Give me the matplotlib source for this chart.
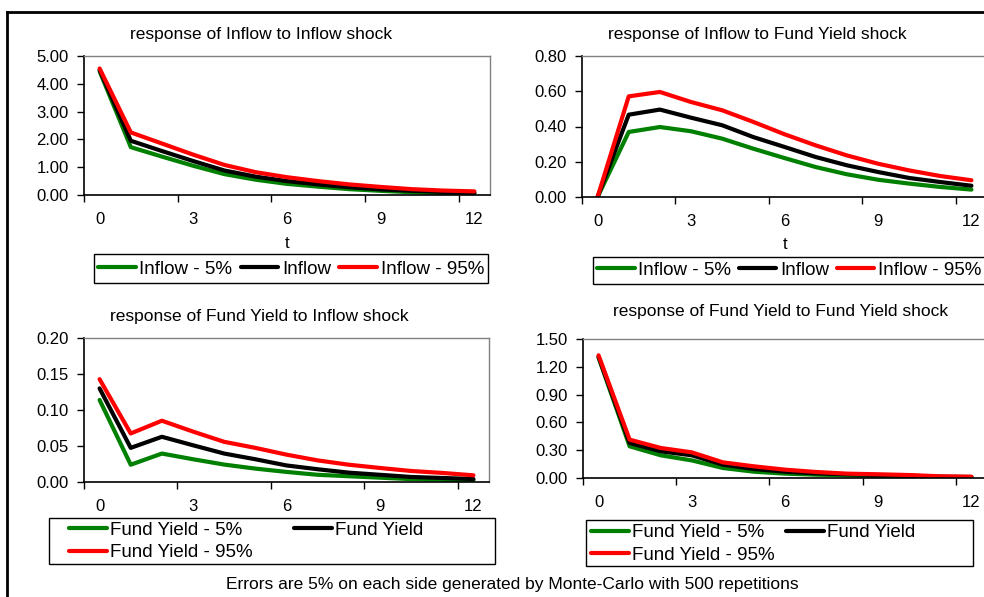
import matplotlib
matplotlib.use("Agg")
import matplotlib.pyplot as plt
from matplotlib.lines import Line2D
from matplotlib.patches import Rectangle
from matplotlib.ticker import FixedLocator, FormatStrFormatter

plt.rcParams['font.family'] = ['Liberation Sans', 'DejaVu Sans']

t = list(range(13))
xtick_labels = ['0', '3', '6', '9', '12']

# response of Inflow to Inflow shock
inf_inf_lo = [4.45, 1.72, 1.38, 1.05, 0.75, 0.55, 0.40, 0.30, 0.21, 0.15, 0.10, 0.07, 0.05]
inf_inf_mid = [4.50, 1.95, 1.58, 1.22, 0.88, 0.66, 0.50, 0.38, 0.28, 0.20, 0.15, 0.11, 0.08]
inf_inf_hi = [4.55, 2.25, 1.85, 1.45, 1.08, 0.82, 0.64, 0.50, 0.38, 0.29, 0.21, 0.16, 0.13]

# response of Inflow to Fund Yield shock
inf_fy_lo = [0.0, 0.369, 0.397, 0.373, 0.331, 0.274, 0.221, 0.170, 0.129, 0.098, 0.076, 0.057, 0.042]
inf_fy_mid = [0.0, 0.467, 0.496, 0.450, 0.407, 0.340, 0.284, 0.227, 0.180, 0.142, 0.108, 0.085, 0.064]
inf_fy_hi = [0.0, 0.571, 0.596, 0.539, 0.492, 0.426, 0.356, 0.293, 0.236, 0.189, 0.151, 0.119, 0.095]

# response of Fund Yield to Inflow shock
fy_inf_lo = [0.114, 0.024, 0.0395, 0.0316, 0.0242, 0.0186, 0.014, 0.010, 0.008, 0.006, 0.004, 0.0033, 0.0023]
fy_inf_mid = [0.130, 0.0474, 0.0628, 0.051, 0.0395, 0.0316, 0.023, 0.0177, 0.013, 0.010, 0.007, 0.0056, 0.0042]
fy_inf_hi = [0.1428, 0.0674, 0.0851, 0.070, 0.0558, 0.0474, 0.038, 0.030, 0.024, 0.0195, 0.0153, 0.0126, 0.0093]

# response of Fund Yield to Fund Yield shock
fy_fy_lo = [1.30, 0.342, 0.245, 0.19, 0.108, 0.068, 0.047, 0.036, 0.029, 0.022, 0.014, 0.011, 0.007]
fy_fy_mid = [1.31, 0.378, 0.288, 0.245, 0.144, 0.097, 0.068, 0.050, 0.040, 0.032, 0.025, 0.014, 0.011]
fy_fy_hi = [1.324, 0.414, 0.324, 0.277, 0.169, 0.126, 0.090, 0.065, 0.047, 0.040, 0.032, 0.018, 0.014]

inflow_names = ['Inflow - 5%', 'Inflow', 'Inflow - 95%']
fy_names = ['Fund Yield - 5%', 'Fund Yield', 'Fund Yield - 95%']
titles = ['response of Inflow to Inflow shock', 'response of Inflow to Fund Yield shock',
          'response of Fund Yield to Inflow shock', 'response of Fund Yield to Fund Yield shock']
footer = 'Errors are 5% on each side generated by Monte-Carlo with 500 repetitions'

W, H = 984, 597
fig = plt.figure(figsize=(W / 100, H / 100), dpi=100)

GREEN = '#008000'
RED = '#FF0000'
LW = 3.0
TITLE_FS = 12.5
TICK_FS = 12
LEG_FS = 13.5


def fr(x0, y0, x1, y1):
    return [x0 / W, 1 - y1 / H, (x1 - x0) / W, (y1 - y0) / H]


def style(ax, ymax, ystep):
    ax.set_xlim(-0.5, 12.5)
    ax.set_ylim(0, ymax)
    n = int(round(ymax / ystep))
    ax.set_yticks([i * ystep for i in range(n + 1)])
    ax.yaxis.set_major_formatter(FormatStrFormatter('%.2f'))
    ax.set_xticks([-0.5, 2.5, 5.5, 8.5, 11.5])
    ax.set_xticklabels([])
    ax.xaxis.set_minor_locator(FixedLocator([0, 3, 6, 9, 12]))
    ax.set_xticklabels(xtick_labels, minor=True)
    ax.tick_params(axis='x', which='major', direction='out', length=5, width=1, color='black')
    ax.tick_params(axis='x', which='minor', length=0, pad=12, labelsize=TICK_FS)
    ax.tick_params(axis='y', direction='out', length=5, width=1, labelsize=TICK_FS, pad=6)
    for s in ['left', 'bottom']:
        ax.spines[s].set_color('black')
        ax.spines[s].set_linewidth(1.2)
    for s in ['top', 'right']:
        ax.spines[s].set_color('#808080')
        ax.spines[s].set_linewidth(1.0)


def draw(ax, lo, mid, hi, names):
    l1, = ax.plot(t, lo, color=GREEN, lw=LW, solid_capstyle='round', label=names[0])
    l2, = ax.plot(t, mid, color='black', lw=LW, solid_capstyle='round', label=names[1])
    l3, = ax.plot(t, hi, color=RED, lw=LW, solid_capstyle='round', label=names[2])
    return [l1, l2, l3]


def legend(handles, labels, xl, yc, box, ncol, colsp):
    fig.legend(handles, labels, loc='center left', bbox_to_anchor=(xl / W, 1 - yc / H),
               ncol=ncol, fontsize=LEG_FS, frameon=False, handlelength=2.0,
               handletextpad=0.2, columnspacing=colsp, borderpad=0, labelspacing=0.3,
               borderaxespad=0)
    x0, y0, x1, y1 = box
    fig.add_artist(Rectangle((x0 / W, 1 - y1 / H), (x1 - x0) / W, (y1 - y0) / H,
                             transform=fig.transFigure, fill=False, edgecolor='black', lw=1.0))


# top-left
ax1 = fig.add_axes(fr(84, 56, 490, 195))
h1 = draw(ax1, inf_inf_lo, inf_inf_mid, inf_inf_hi, inflow_names)
style(ax1, 5.0, 1.0)
fig.text(261 / W, 1 - 39 / H, titles[0], ha='center', va='baseline', fontsize=TITLE_FS)
fig.text(287 / W, 1 - 248 / H, 't', ha='center', va='baseline', fontsize=TICK_FS)
legend(h1, inflow_names, 98, 269, (94, 254, 488, 283), 3, 0.45)

# top-right
ax2 = fig.add_axes(fr(582, 56, 987, 197))
h2 = draw(ax2, inf_fy_lo, inf_fy_mid, inf_fy_hi, inflow_names)
style(ax2, 0.80, 0.20)
fig.text(757 / W, 1 - 39 / H, titles[1], ha='center', va='baseline', fontsize=TITLE_FS)
fig.text(785 / W, 1 - 249 / H, 't', ha='center', va='baseline', fontsize=TICK_FS)
legend(h2, inflow_names, 597, 270, (593, 257, 992, 284), 3, 0.4)

# bottom-left  (row-wise order: 5%, mid / 95%)
ax3 = fig.add_axes(fr(84, 338, 489, 482))
h3 = draw(ax3, fy_inf_lo, fy_inf_mid, fy_inf_hi, fy_names)
style(ax3, 0.20, 0.05)
fig.text(259 / W, 1 - 320.5 / H, titles[2], ha='center', va='baseline', fontsize=TITLE_FS)
legend([h3[0], h3[2], h3[1]], [fy_names[0], fy_names[2], fy_names[1]], 69, 541.5,
       (49, 518, 495, 564), 2, 2.2)

# bottom-right
ax4 = fig.add_axes(fr(583, 339, 987, 478))
h4 = draw(ax4, fy_fy_lo, fy_fy_mid, fy_fy_hi, fy_names)
style(ax4, 1.50, 0.30)
fig.text(781 / W, 1 - 316 / H, titles[3], ha='center', va='baseline', fontsize=TITLE_FS)
legend([h4[0], h4[2], h4[1]], [fy_names[0], fy_names[2], fy_names[1]], 591, 544,
       (586, 520, 973, 566), 2, 0.6)

fig.text(512 / W, 1 - 584 / H, footer, ha='center', va='center', fontsize=12.5)

# outer frame of the exhibit
fig.add_artist(Line2D([7 / W, 7 / W], [0, 1 - 11.5 / H], transform=fig.transFigure, color='black', lw=2))
fig.add_artist(Line2D([7 / W, 1], [1 - 11.5 / H, 1 - 11.5 / H], transform=fig.transFigure, color='black', lw=2))

fig.savefig('out.png', dpi=100)
